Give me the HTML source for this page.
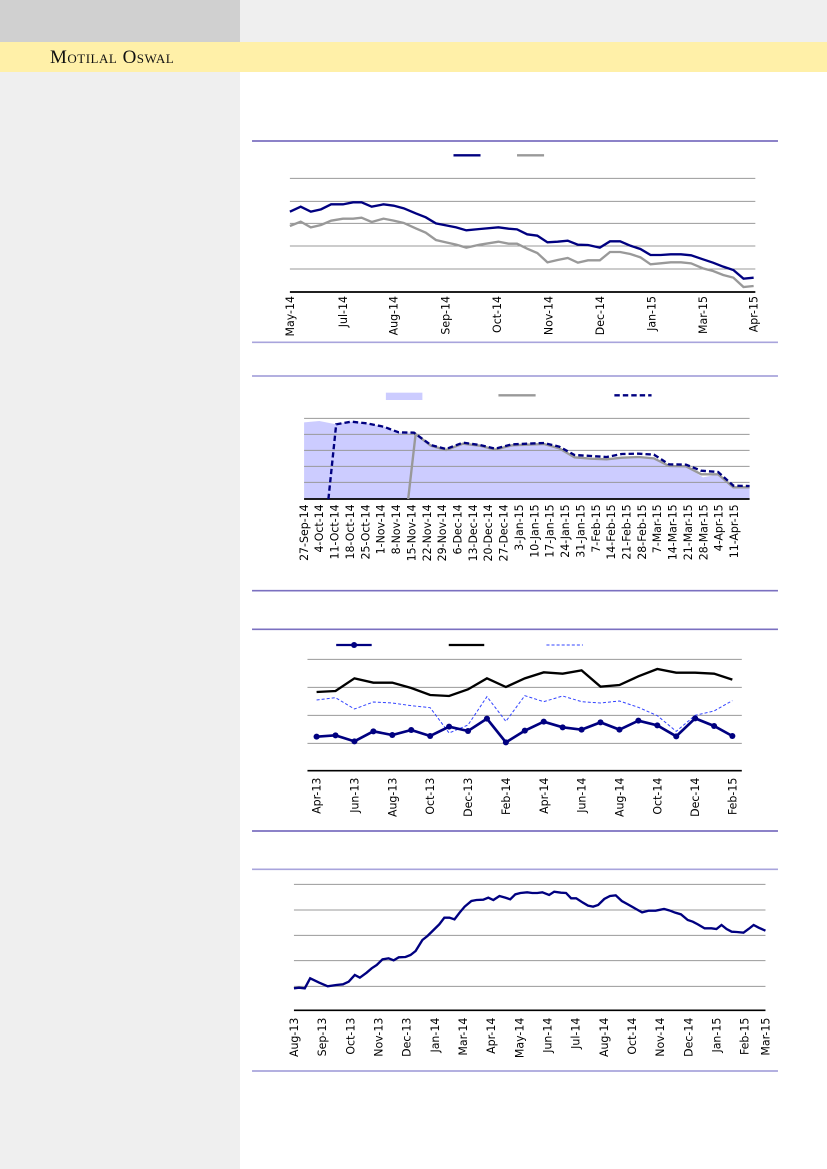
<!DOCTYPE html>
<html><head><meta charset="utf-8"><style>
html,body{margin:0;padding:0}
body{width:827px;height:1169px;position:relative;background:#fff;overflow:hidden;font-family:"Liberation Sans",sans-serif}
.a{position:absolute}
svg.c{position:absolute;left:250px;width:530px}
svg text{font-family:"DejaVu Sans","Liberation Sans",sans-serif;font-size:33px;fill:#000}
</style></head><body>
<div class="a" style="left:0;top:0;width:240px;height:42px;background:#d0d0d0"></div>
<div class="a" style="left:240px;top:0;width:587px;height:42px;background:#efefef"></div>
<div class="a" style="left:0;top:42px;width:827px;height:30px;background:#fff0a8"></div>
<div class="a" style="left:0;top:72px;width:240px;height:1097px;background:#efefef"></div>
<div class="a" style="left:50px;top:47px;font-family:'Liberation Serif',serif;font-size:19px;font-variant:small-caps;letter-spacing:0.5px;color:#111">Motilal Oswal</div>

<!-- Chart 1 -->
<svg class="c" style="top:140px;height:210px" viewBox="0 0 1568 630" preserveAspectRatio="none">
<line x1="6" y1="3" x2="1562" y2="3" stroke="#7b70c0" stroke-width="5"/>
<line x1="6" y1="607" x2="1562" y2="607" stroke="#a8a4dc" stroke-width="5"/>
<line x1="602" y1="46" x2="682" y2="46" stroke="#000080" stroke-width="7"/>
<line x1="790" y1="46" x2="870" y2="46" stroke="#999" stroke-width="7"/>
<g stroke="#999" stroke-width="3"><line x1="118" y1="115" x2="1495" y2="115"/><line x1="118" y1="184" x2="1495" y2="184"/><line x1="118" y1="250" x2="1495" y2="250"/><line x1="118" y1="318" x2="1495" y2="318"/><line x1="118" y1="387" x2="1495" y2="387"/></g>
<line x1="118" y1="456" x2="1495" y2="456" stroke="#000" stroke-width="5"/>
<polyline fill="none" stroke="#999" stroke-width="7" points="118,258 150,245 180,262 210,255 240,242 275,236 305,236 330,233 360,246 395,236 425,242 455,249 490,265 520,278 550,300 580,307 610,314 640,323 680,314 735,305 765,311 790,311 820,326 850,339 880,367 910,360 940,354 970,368 1000,361 1035,361 1065,336 1095,336 1125,342 1155,352 1185,373 1215,370 1245,367 1275,367 1305,370 1340,385 1370,393 1400,405 1430,413 1460,441 1490,438"/>
<polyline fill="none" stroke="#000080" stroke-width="7" points="118,215 150,200 180,215 210,208 240,193 275,193 305,187 330,187 360,200 395,193 425,197 455,205 490,220 520,232 550,250 580,256 610,262 640,271 680,267 735,262 765,266 790,268 820,283 850,287 880,307 910,305 940,302 970,314 1000,315 1035,323 1065,304 1095,304 1125,317 1155,327 1185,345 1215,345 1245,343 1275,343 1305,346 1340,358 1370,368 1400,380 1430,390 1460,416 1490,413"/>
<g text-anchor="end">
<text transform="translate(130,468) rotate(-90)">May-14</text>
<text transform="translate(287,468) rotate(-90)">Jul-14</text>
<text transform="translate(437,468) rotate(-90)">Aug-14</text>
<text transform="translate(590,468) rotate(-90)">Sep-14</text>
<text transform="translate(742,468) rotate(-90)">Oct-14</text>
<text transform="translate(895,468) rotate(-90)">Nov-14</text>
<text transform="translate(1047,468) rotate(-90)">Dec-14</text>
<text transform="translate(1200,468) rotate(-90)">Jan-15</text>
<text transform="translate(1352,468) rotate(-90)">Mar-15</text>
<text transform="translate(1502,468) rotate(-90)">Apr-15</text>
</g>
</svg>

<!-- Chart 2 -->
<svg class="c" style="top:370px;height:230px" viewBox="0 0 1568 690" preserveAspectRatio="none">
<line x1="6" y1="18" x2="1562" y2="18" stroke="#a8a4dc" stroke-width="5"/>
<line x1="6" y1="662" x2="1562" y2="662" stroke="#7b70c0" stroke-width="5"/>
<rect x="402" y="68" width="108" height="22" fill="#ccccff"/>
<line x1="735" y1="76" x2="845" y2="76" stroke="#999" stroke-width="7"/>
<line x1="1078" y1="76" x2="1188" y2="76" stroke="#000080" stroke-width="7" stroke-dasharray="16,9"/>
<polygon fill="#ccccff" points="160,157 205,153 250,162 300,155 345,160 395,170 440,187 485,188 535,227 580,240 630,221 680,227 725,239 775,226 820,224 870,222 915,235 960,262 1010,266 1055,268 1100,263 1150,261 1195,265 1240,288 1290,289 1340,322 1385,313 1430,352 1478,352 1478,387 160,387"/>
<g stroke="#999" stroke-width="3"><line x1="160" y1="145" x2="1478" y2="145"/><line x1="160" y1="193" x2="1478" y2="193"/><line x1="160" y1="241" x2="1478" y2="241"/><line x1="160" y1="289" x2="1478" y2="289"/><line x1="160" y1="337" x2="1478" y2="337"/></g>
<line x1="160" y1="387" x2="1478" y2="387" stroke="#000" stroke-width="5"/>
<polyline fill="none" stroke="#999" stroke-width="7" points="468,387 490,192 535,227 580,240 630,221 680,227 725,239 775,226 820,224 870,222 915,235 960,262 1010,266 1055,268 1100,263 1150,261 1195,265 1240,288 1290,289 1335,313 1385,313 1430,352 1478,352"/>
<polyline fill="none" stroke="#000080" stroke-width="7" stroke-dasharray="16,9" points="232,387 255,163 300,155 345,160 395,170 440,187 485,188 535,225 580,237 630,218 680,225 725,236 775,223 820,221 870,219 915,230 960,255 1010,258 1055,261 1100,252 1150,251 1195,254 1240,283 1290,284 1335,302 1385,306 1430,347 1478,348"/>
<g text-anchor="end">
<text transform="translate(171,403) rotate(-90)">27-Sep-14</text>
<text transform="translate(216,403) rotate(-90)">4-Oct-14</text>
<text transform="translate(262,403) rotate(-90)">11-Oct-14</text>
<text transform="translate(307,403) rotate(-90)">18-Oct-14</text>
<text transform="translate(353,403) rotate(-90)">25-Oct-14</text>
<text transform="translate(398,403) rotate(-90)">1-Nov-14</text>
<text transform="translate(444,403) rotate(-90)">8-Nov-14</text>
<text transform="translate(489,403) rotate(-90)">15-Nov-14</text>
<text transform="translate(535,403) rotate(-90)">22-Nov-14</text>
<text transform="translate(580,403) rotate(-90)">29-Nov-14</text>
<text transform="translate(626,403) rotate(-90)">6-Dec-14</text>
<text transform="translate(671,403) rotate(-90)">13-Dec-14</text>
<text transform="translate(716,403) rotate(-90)">20-Dec-14</text>
<text transform="translate(762,403) rotate(-90)">27-Dec-14</text>
<text transform="translate(807,403) rotate(-90)">3-Jan-15</text>
<text transform="translate(853,403) rotate(-90)">10-Jan-15</text>
<text transform="translate(898,403) rotate(-90)">17-Jan-15</text>
<text transform="translate(944,403) rotate(-90)">24-Jan-15</text>
<text transform="translate(989,403) rotate(-90)">31-Jan-15</text>
<text transform="translate(1035,403) rotate(-90)">7-Feb-15</text>
<text transform="translate(1080,403) rotate(-90)">14-Feb-15</text>
<text transform="translate(1126,403) rotate(-90)">21-Feb-15</text>
<text transform="translate(1171,403) rotate(-90)">28-Feb-15</text>
<text transform="translate(1216,403) rotate(-90)">7-Mar-15</text>
<text transform="translate(1262,403) rotate(-90)">14-Mar-15</text>
<text transform="translate(1307,403) rotate(-90)">21-Mar-15</text>
<text transform="translate(1353,403) rotate(-90)">28-Mar-15</text>
<text transform="translate(1398,403) rotate(-90)">4-Apr-15</text>
<text transform="translate(1444,403) rotate(-90)">11-Apr-15</text>
</g>
</svg>

<!-- Chart 3 -->
<svg class="c" style="top:625px;height:210px" viewBox="0 0 1568 630" preserveAspectRatio="none">
<line x1="6" y1="13" x2="1562" y2="13" stroke="#7b70c0" stroke-width="5"/>
<line x1="6" y1="618" x2="1562" y2="618" stroke="#7b70c0" stroke-width="5"/>
<line x1="255" y1="60" x2="360" y2="60" stroke="#000080" stroke-width="7"/><circle cx="308" cy="60" r="9" fill="#000080"/>
<line x1="588" y1="60" x2="693" y2="60" stroke="#000" stroke-width="7"/>
<line x1="877" y1="60" x2="985" y2="60" stroke="#3344ff" stroke-width="3" stroke-dasharray="9,6"/>
<g stroke="#999" stroke-width="3"><line x1="170" y1="103" x2="1455" y2="103"/><line x1="170" y1="187" x2="1455" y2="187"/><line x1="170" y1="271" x2="1455" y2="271"/><line x1="170" y1="355" x2="1455" y2="355"/></g>
<line x1="170" y1="437" x2="1455" y2="437" stroke="#000" stroke-width="5"/>
<polyline fill="none" stroke="#000" stroke-width="7" points="197,201 253,198 309,160 365,173 421,173 477,189 533,210 589,213 645,193 701,160 757,186 813,160 869,142 925,146 981,136 1037,185 1093,180 1149,154 1205,132 1261,143 1317,143 1373,146 1427,164"/>
<polyline fill="none" stroke="#3344ff" stroke-width="3" stroke-dasharray="9,6" points="197,225 253,218 309,252 365,231 421,234 477,242 533,248 589,324 645,300 701,215 757,289 813,212 869,230 925,213 981,230 1037,234 1093,228 1149,247 1205,272 1261,319 1317,271 1373,258 1427,227"/>
<polyline fill="none" stroke="#000080" stroke-width="8" points="197,335 253,331 309,349 365,319 421,330 477,315 533,333 589,305 645,318 701,281 757,352 813,317 869,290 925,307 981,314 1037,292 1093,314 1149,287 1205,301 1261,334 1317,280 1373,303 1427,333"/>
<g fill="#000080"><circle cx="197" cy="335" r="9"/><circle cx="253" cy="331" r="9"/><circle cx="309" cy="349" r="9"/><circle cx="365" cy="319" r="9"/><circle cx="421" cy="330" r="9"/><circle cx="477" cy="315" r="9"/><circle cx="533" cy="333" r="9"/><circle cx="589" cy="305" r="9"/><circle cx="645" cy="318" r="9"/><circle cx="701" cy="281" r="9"/><circle cx="757" cy="352" r="9"/><circle cx="813" cy="317" r="9"/><circle cx="869" cy="290" r="9"/><circle cx="925" cy="307" r="9"/><circle cx="981" cy="314" r="9"/><circle cx="1037" cy="292" r="9"/><circle cx="1093" cy="314" r="9"/><circle cx="1149" cy="287" r="9"/><circle cx="1205" cy="301" r="9"/><circle cx="1261" cy="334" r="9"/><circle cx="1317" cy="280" r="9"/><circle cx="1373" cy="303" r="9"/><circle cx="1427" cy="333" r="9"/></g>
<g text-anchor="end">
<text transform="translate(209,458) rotate(-90)">Apr-13</text>
<text transform="translate(321,458) rotate(-90)">Jun-13</text>
<text transform="translate(433,458) rotate(-90)">Aug-13</text>
<text transform="translate(545,458) rotate(-90)">Oct-13</text>
<text transform="translate(657,458) rotate(-90)">Dec-13</text>
<text transform="translate(769,458) rotate(-90)">Feb-14</text>
<text transform="translate(881,458) rotate(-90)">Apr-14</text>
<text transform="translate(993,458) rotate(-90)">Jun-14</text>
<text transform="translate(1105,458) rotate(-90)">Aug-14</text>
<text transform="translate(1217,458) rotate(-90)">Oct-14</text>
<text transform="translate(1329,458) rotate(-90)">Dec-14</text>
<text transform="translate(1439,458) rotate(-90)">Feb-15</text>
</g>
</svg>

<!-- Chart 4 -->
<svg class="c" style="top:865px;height:210px" viewBox="0 0 1568 630" preserveAspectRatio="none">
<line x1="6" y1="13" x2="1562" y2="13" stroke="#a8a4dc" stroke-width="5"/>
<line x1="6" y1="618" x2="1562" y2="618" stroke="#a8a4dc" stroke-width="5"/>
<g stroke="#999" stroke-width="3"><line x1="130" y1="58" x2="1525" y2="58"/><line x1="130" y1="135" x2="1525" y2="135"/><line x1="130" y1="211" x2="1525" y2="211"/><line x1="130" y1="287" x2="1525" y2="287"/><line x1="130" y1="364" x2="1525" y2="364"/></g>
<line x1="130" y1="436" x2="1525" y2="436" stroke="#000" stroke-width="5"/>
<polyline fill="none" stroke="#000080" stroke-width="7" points="130,370 145,368 162,370 178,340 205,353 230,364 255,360 275,358 292,350 310,330 325,338 345,323 360,310 375,300 392,283 410,280 425,286 440,277 460,276 475,270 490,258 510,225 525,213 540,198 560,178 575,158 590,158 605,163 620,143 635,125 655,108 670,105 690,104 705,98 720,105 738,93 755,98 770,103 785,88 800,84 820,82 835,84 850,84 865,82 885,90 900,80 920,83 935,84 950,100 965,100 985,113 1000,122 1015,125 1030,120 1048,102 1065,93 1082,91 1100,108 1118,118 1135,128 1160,142 1180,137 1200,137 1225,132 1240,136 1258,143 1275,148 1295,165 1310,170 1325,178 1345,190 1365,190 1380,192 1395,180 1410,192 1425,200 1440,201 1460,203 1475,192 1490,180 1505,188 1525,197"/>
<g text-anchor="end">
<text transform="translate(142,458) rotate(-90)">Aug-13</text>
<text transform="translate(225,458) rotate(-90)">Sep-13</text>
<text transform="translate(309,458) rotate(-90)">Oct-13</text>
<text transform="translate(392,458) rotate(-90)">Nov-13</text>
<text transform="translate(475,458) rotate(-90)">Dec-13</text>
<text transform="translate(559,458) rotate(-90)">Jan-14</text>
<text transform="translate(642,458) rotate(-90)">Mar-14</text>
<text transform="translate(725,458) rotate(-90)">Apr-14</text>
<text transform="translate(809,458) rotate(-90)">May-14</text>
<text transform="translate(892,458) rotate(-90)">Jun-14</text>
<text transform="translate(975,458) rotate(-90)">Jul-14</text>
<text transform="translate(1059,458) rotate(-90)">Aug-14</text>
<text transform="translate(1142,458) rotate(-90)">Oct-14</text>
<text transform="translate(1225,458) rotate(-90)">Nov-14</text>
<text transform="translate(1309,458) rotate(-90)">Dec-14</text>
<text transform="translate(1392,458) rotate(-90)">Jan-15</text>
<text transform="translate(1475,458) rotate(-90)">Feb-15</text>
<text transform="translate(1537,458) rotate(-90)">Mar-15</text>
</g>
</svg>
</body></html>
